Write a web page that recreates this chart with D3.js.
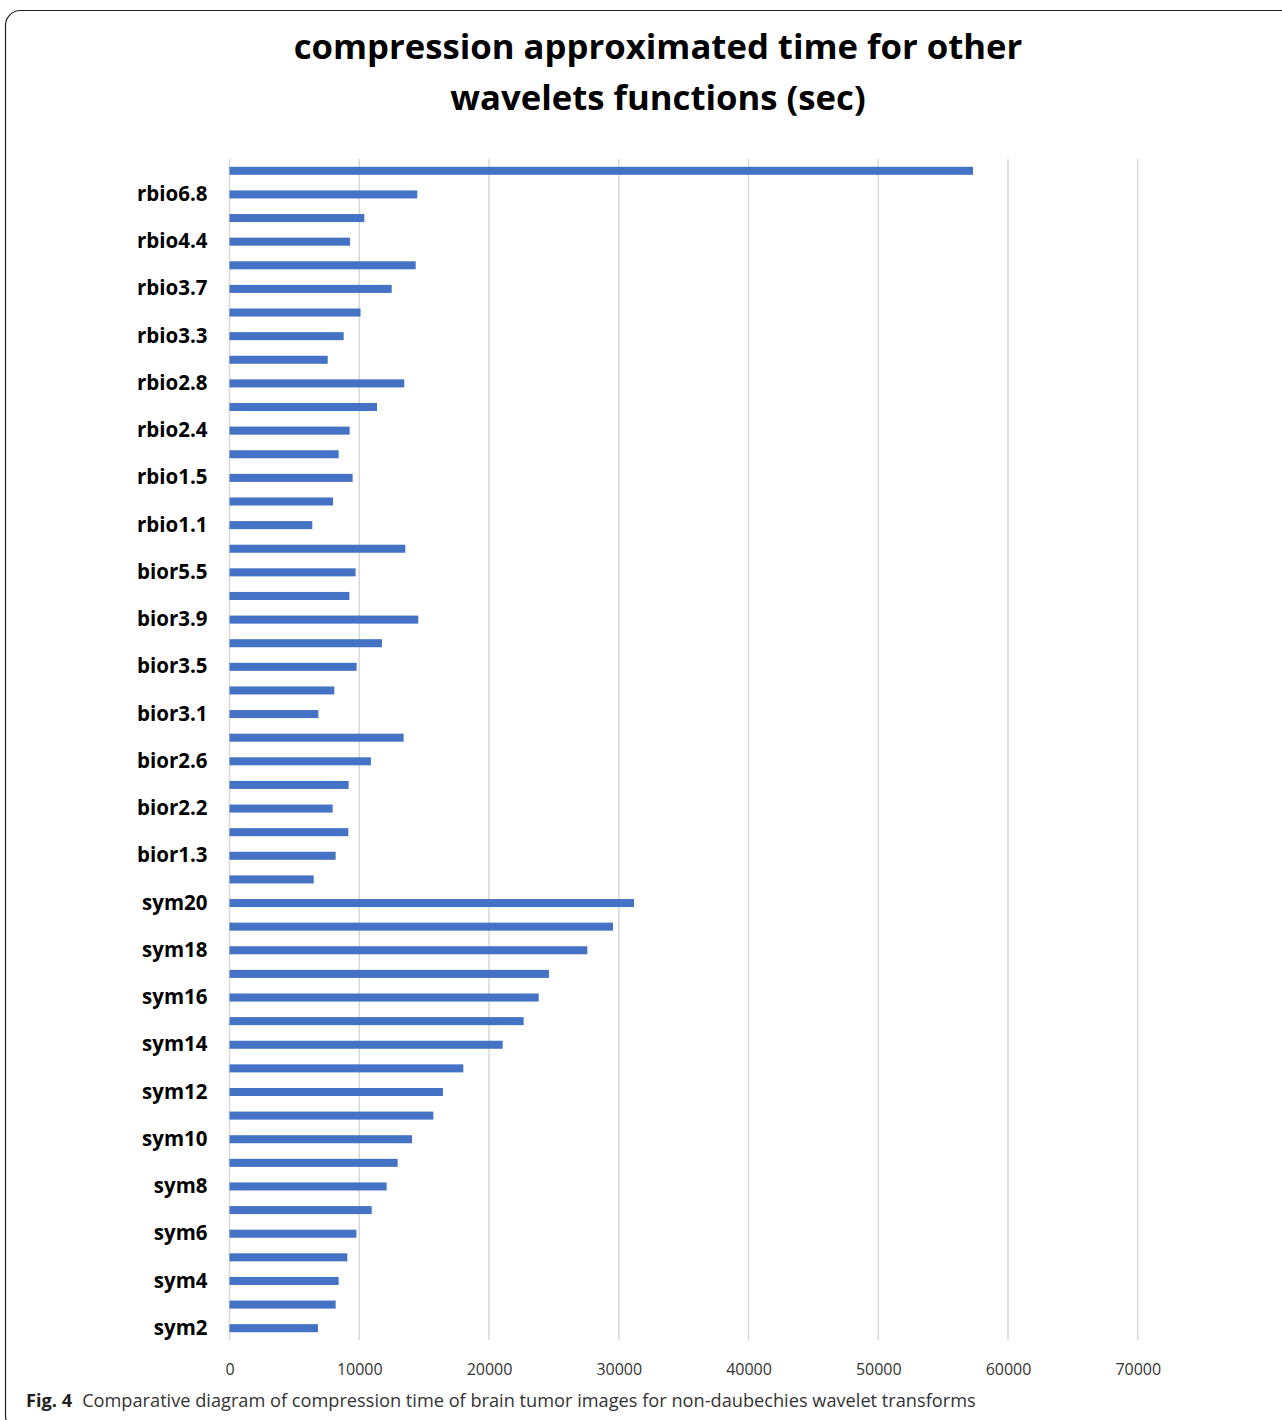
<!DOCTYPE html>
<html>
<head>
<meta charset="utf-8">
<script src="https://cdn.jsdelivr.net/npm/d3@7"></script>
<style>
  html, body { margin: 0; padding: 0; background: #fff; }
  svg { display: block; }
</style>
</head>
<body>
<svg id="chart" width="1282" height="1420"></svg>
<script>
// Wavelet families, listed bottom to top as they appear on the axis
const categories = [
  "sym2", "sym3", "sym4", "sym5", "sym6", "sym7", "sym8", "sym9", "sym10",
  "sym11", "sym12", "sym13", "sym14", "sym15", "sym16", "sym17", "sym18", "sym19", "sym20",
  "bior1.1", "bior1.3", "bior1.5", "bior2.2", "bior2.4", "bior2.6", "bior2.8",
  "bior3.1", "bior3.3", "bior3.5", "bior3.7", "bior3.9", "bior4.4", "bior5.5", "bior6.8",
  "rbio1.1", "rbio1.3", "rbio1.5", "rbio2.2", "rbio2.4", "rbio2.6", "rbio2.8",
  "rbio3.1", "rbio3.3", "rbio3.5", "rbio3.7", "rbio3.9", "rbio4.4", "rbio5.5", "rbio6.8",
  "dmey"
];

// Approximated compression time (sec), one value per category
const compressionTime = [
  6820, 8180, 8410, 9080, 9780, 10960, 12110, 12960, 14070,
  15710, 16450, 18020, 21050, 22670, 23830, 24620, 27580, 29560, 31180,
  6490, 8180, 9160, 7950, 9180, 10900, 13420,
  6850, 8080, 9800, 11750, 14550, 9240, 9720, 13550,
  6380, 7980, 9490, 8410, 9260, 11370, 13470,
  7570, 8800, 10100, 12500, 14350, 9290, 10390, 14470,
  57300
];

// Value axis ticks
const xTicks = [0, 10000, 20000, 30000, 40000, 50000, 60000, 70000];

// Only every other category carries a label
const labeledCategories = categories.filter((d, i) => i % 2 === 0 && i < categories.length - 1);

const titleLines = [
  "compression approximated time for other",
  "wavelets functions (sec)"
];
const captionLead = "Fig. 4";
const captionText = "Comparative diagram of compression time of brain tumor images for non-daubechies wavelet transforms";

const svg = d3.select("#chart");

// Figure frame with rounded corners
svg.append("rect")
  .attr("x", 5.5).attr("y", 10.5)
  .attr("width", 1300).attr("height", 1420)
  .attr("rx", 15).attr("ry", 15)
  .attr("fill", "none")
  .attr("stroke", "#231f20")
  .attr("stroke-width", 1.2);

const plot = { left: 229.5, right: 1137.75, top: 159, bottom: 1340 };

const x = d3.scaleLinear()
  .domain([0, 70000])
  .range([plot.left, plot.right]);

const y = d3.scaleBand()
  .domain(categories.slice().reverse())
  .range([plot.top, plot.bottom])
  .paddingInner(0.66)
  .paddingOuter(0.33);

// Vertical gridlines
svg.append("g")
  .selectAll("line")
  .data(xTicks)
  .join("line")
  .attr("x1", d => x(d)).attr("x2", d => x(d))
  .attr("y1", plot.top).attr("y2", plot.bottom)
  .attr("stroke", "#d9d9d9")
  .attr("stroke-width", 1.5);

// Bars
svg.append("g")
  .selectAll("rect")
  .data(categories.map((c, i) => ({ c, v: compressionTime[i] })))
  .join("rect")
  .attr("x", x(0))
  .attr("y", d => y(d.c))
  .attr("width", d => x(d.v) - x(0))
  .attr("height", y.bandwidth())
  .attr("fill", "#4472c4");

// Category axis
const yAxis = svg.append("g")
  .attr("transform", `translate(${plot.left},0)`)
  .call(d3.axisLeft(y).tickValues(labeledCategories).tickSize(0).tickPadding(22));
yAxis.select(".domain").remove();
yAxis.selectAll("text")
  .attr("font-family", "'Open Sans', sans-serif")
  .attr("font-weight", "bold")
  .attr("font-size", 20.5)
  .attr("fill", "#000");

// Value axis
const xAxis = svg.append("g")
  .attr("transform", `translate(0,${plot.bottom})`)
  .call(d3.axisBottom(x).tickValues(xTicks).tickFormat(d3.format("d")).tickSize(0).tickPadding(24));
xAxis.select(".domain").remove();
xAxis.selectAll("text")
  .attr("font-family", "'Open Sans', sans-serif")
  .attr("font-size", 16)
  .attr("fill", "#333");

// Title
svg.append("g")
  .selectAll("text")
  .data(titleLines)
  .join("text")
  .attr("x", 658)
  .attr("y", (d, i) => 59 + i * 51)
  .attr("text-anchor", "middle")
  .attr("font-family", "'Open Sans', sans-serif")
  .attr("font-weight", "bold")
  .attr("font-size", 34.7)
  .attr("fill", "#000")
  .text(d => d);

// Caption
const caption = svg.append("text")
  .attr("x", 26)
  .attr("y", 1407)
  .attr("font-family", "'Open Sans', sans-serif")
  .attr("font-size", 18.2)
  .attr("fill", "#333");
caption.append("tspan").attr("font-weight", "bold").attr("fill", "#231f20").text(captionLead);
caption.append("tspan").attr("dx", 10).text(captionText);
</script>
</body>
</html>
